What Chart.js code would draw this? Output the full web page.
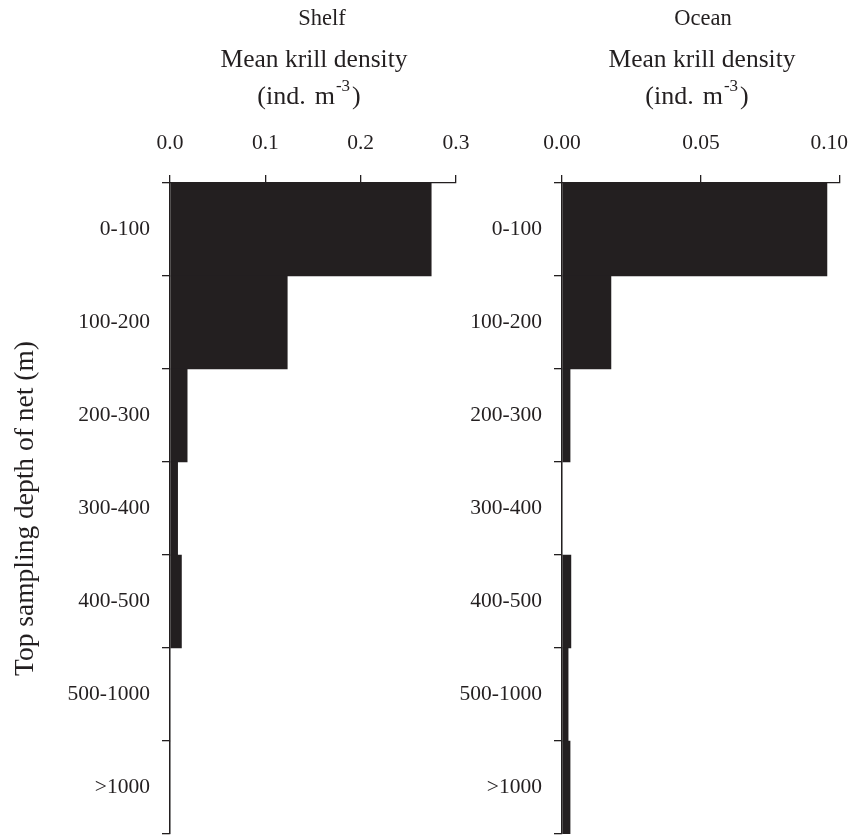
<!DOCTYPE html>
<html>
<head>
<meta charset="utf-8">
<title>Mean krill density by depth</title>
<script src="https://cdn.jsdelivr.net/npm/chart.js@4"></script>
<style>
  html, body { margin: 0; padding: 0; background: #fff; }
  #wrap { position: relative; width: 859px; height: 836px; }
  #wrap canvas { position: absolute; left: 0; top: 0; }
</style>
</head>
<body>
<div id="wrap">
  <canvas id="shelfChart" width="859" height="836"></canvas>
  <canvas id="oceanChart" width="859" height="836"></canvas>
</div>
<script>
// depth bins (top sampling depth of net, m)
var depthBins = ['0-100', '100-200', '200-300', '300-400', '400-500', '500-1000', '>1000'];
// mean krill density (ind. m-3)
var shelfDensity = [0.274, 0.123, 0.018, 0.008, 0.012, 0, 0];
var oceanDensity = [0.0953, 0.0176, 0.0029, 0, 0.0032, 0.0022, 0.0029];
var shelfTicks = [0.0, 0.1, 0.2, 0.3];
var oceanTicks = [0.00, 0.05, 0.10];

var ink = '#231f20';
var serif = "'Liberation Serif', 'Times New Roman', serif";

// three header lines above each panel
function headerPlugin(name, nameShift) {
    return {
        id: 'header',
        afterDraw: function(chart) {
            var ctx = chart.ctx;
            var a = chart.chartArea;
            var cx = (a.left + a.right) / 2;
            ctx.save();
            ctx.fillStyle = ink;
            ctx.textAlign = 'center';
            ctx.textBaseline = 'alphabetic';
            ctx.font = '22.5px ' + serif;
            ctx.fillText(name, cx + nameShift, 25);
            ctx.font = '25.5px ' + serif;
            ctx.fillText('Mean krill density', cx + 1, 67);
            // (ind. m-3) with raised exponent
            var p1 = '(ind.', p2 = 'm', sup = '-3', p3 = ')';
            var gap = 9;
            ctx.font = '26px ' + serif;
            var w1 = ctx.measureText(p1).width;
            var w2 = ctx.measureText(p2).width;
            var w4 = ctx.measureText(p3).width;
            ctx.font = '17px ' + serif;
            var w3 = ctx.measureText(sup).width + 3;
            var x = cx - 4 - (w1 + gap + w2 + w3 + w4) / 2;
            ctx.textAlign = 'left';
            ctx.font = '26px ' + serif;
            ctx.fillText(p1, x, 104);
            ctx.fillText(p2, x + w1 + gap, 104);
            ctx.fillText(p3, x + w1 + gap + w2 + w3, 104);
            ctx.font = '17px ' + serif;
            ctx.fillText(sup, x + w1 + gap + w2 + 1, 91);
            ctx.restore();
        }
    };
}

function makeChart(id, name, nameShift, values, tickVals, decimals, yWidth, pad, showTitle) {
    var ctx = document.getElementById(id).getContext('2d');
    return new Chart(ctx, {
        type: 'bar',
        data: {
            labels: depthBins,
            datasets: [{
                label: name,
                data: values,
                backgroundColor: ink,
                borderWidth: 0,
                barPercentage: 1,
                categoryPercentage: 1
            }]
        },
        options: {
            indexAxis: 'y',
            responsive: false,
            animation: false,
            layout: { padding: pad },
            plugins: { legend: { display: false }, tooltip: { enabled: false } },
            scales: {
                x: {
                    position: 'top',
                    min: tickVals[0],
                    max: tickVals[tickVals.length - 1],
                    afterBuildTicks: function(scale) {
                        scale.ticks = tickVals.map(function(v) { return { value: v }; });
                    },
                    afterFit: function(scale) {
                        scale.height = 183;
                        scale.paddingLeft = 0;
                        scale.paddingRight = 0;
                    },
                    ticks: {
                        color: ink,
                        font: { family: serif, size: 21.5 },
                        padding: 19,
                        maxRotation: 0,
                        callback: function(v, i, all) {
                            var s = Number(v).toFixed(decimals);
                            // last ocean label sits a little inside the edge
                            if (decimals === 2 && i === all.length - 1) s += '\u2002\u2002';
                            return s;
                        }
                    },
                    grid: { drawOnChartArea: false, tickLength: 8, color: ink, lineWidth: 1.3 },
                    border: { color: ink, width: 1.3 }
                },
                y: {
                    afterFit: function(scale) {
                        scale.width = yWidth;
                        scale.paddingTop = 0;
                        scale.paddingBottom = 0;
                    },
                    ticks: {
                        color: ink,
                        font: { family: serif, size: 21.5 },
                        padding: 12
                    },
                    grid: { drawOnChartArea: false, tickLength: 8, color: ink, lineWidth: 1.3 },
                    border: { color: ink, width: 1.3 },
                    title: {
                        display: showTitle,
                        text: 'Top sampling depth of net (m)',
                        color: ink,
                        font: { family: serif, size: 27.5 },
                        padding: { top: 9, bottom: 0 }
                    }
                }
            }
        },
        plugins: [headerPlugin(name, nameShift)]
    });
}

makeChart('shelfChart', 'Shelf', 9, shelfDensity, shelfTicks, 1, 170,
    { left: 0, right: 403, top: 0, bottom: 2 }, true);
makeChart('oceanChart', 'Ocean', 2, oceanDensity, oceanTicks, 2, 120,
    { left: 442, right: 19, top: 0, bottom: 2 }, false);
</script>
</body>
</html>
